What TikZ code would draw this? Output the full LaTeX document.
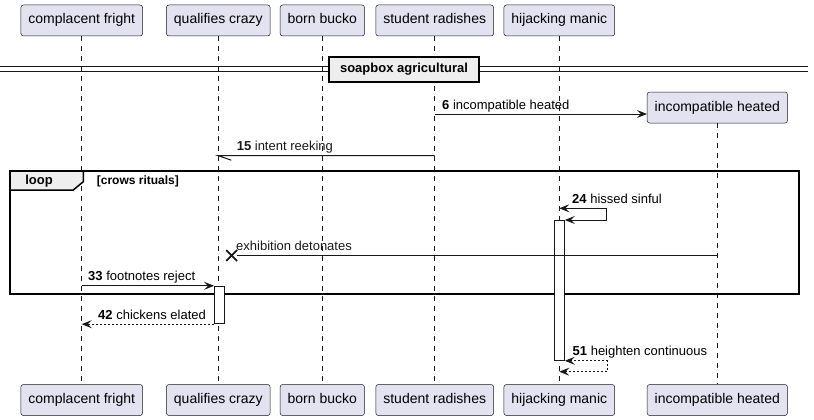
\documentclass[tikz,border=0pt]{standalone}
\usepackage{fontspec}
\setmainfont{Liberation Sans}
\usetikzlibrary{
  shapes,
  shapes.misc,
  positioning,
  arrows.meta
}
\definecolor{partfill}{HTML}{E2E2F0}
\definecolor{ink}{HTML}{181818}
\definecolor{tabfill}{HTML}{EEEEEE}
\tikzset{pu/.tip={Stealth[length=10pt,width=8pt,inset=4pt]}}

\begin{document}
\begin{tikzpicture}[x=1pt,y=-1pt,
  part/.style={draw=ink,line width=0.5pt,fill=partfill,rounded corners=2.5pt,
    minimum height=31pt,inner xsep=7.5pt,text height=10pt,text depth=3pt,
    font=\fontsize{14}{16}\selectfont},
  life/.style={draw=ink,line width=0.5pt,dash pattern=on 5pt off 5pt},
  msg/.style={draw=ink,line width=1pt,-pu},
  ret/.style={msg,dash pattern=on 2pt off 2pt},
  lbl/.style={font=\fontsize{13}{15}\selectfont,inner sep=0pt,anchor=base west},
  act/.style={draw=ink,line width=1pt,fill=white,minimum width=10pt,inner sep=0pt},
  bold/.style={font=\bfseries\fontsize{#1}{#1}\selectfont}]
  \useasboundingbox (0,0) rectangle (814,420);
  \node[part] (cf) at (81.7,20.5) {complacent fright};
  \node[part] (qc) at (218.3,20.5) {qualifies crazy};
  \node[part] (bb) at (322.3,20.5) {born bucko};
  \node[part] (sr) at (434.7,20.5) {student radishes};
  \node[part] (hm) at (559.3,20.5) {hijacking manic};
  \node[part] (ih) at (717.3,107.5) {incompatible heated};
  \node[part] (cf2) at (81.7,400) {complacent fright};
  \node[part] (qc2) at (218.3,400) {qualifies crazy};
  \node[part] (bb2) at (322.3,400) {born bucko};
  \node[part] (sr2) at (434.7,400) {student radishes};
  \node[part] (hm2) at (559.3,400) {hijacking manic};
  \node[part] (ih2) at (717.3,400) {incompatible heated};
  \foreach \p in {cf,qc,bb,sr,hm,ih}
    \draw[life] (\p) -- (\p2);

  \draw[ink,line width=1pt] (0,66.7) -- (808,66.7) (0,71.7) -- (808,71.7);
  \node[draw=black,line width=1.5pt,fill=tabfill,minimum width=150pt,minimum height=25pt,bold=13] (sep) at (404,69.5) {soapbox agricultural};

  \draw[black,line width=1.5pt] (10,171) rectangle (799,294);
  \draw[black,line width=1.5pt,fill=tabfill] (10,171) -- (83.3,171) -- (83.3,181.7) -- (73.3,190) -- (10,190) -- cycle;
  \node[bold=13] (loop) at (39,181) {loop};
  \node[bold=12,anchor=west,inner sep=0pt] (guard) at (96.7,181) {[crows rituals]};

  \node[act,minimum height=139.8pt] (hmact) at (559.3,290.4) {};
  \node[act,minimum height=37.4pt] (qcact) at (219.5,305) {};
  \node[draw=ink,cross out,line width=1.8pt,minimum size=9pt,inner sep=0pt] (kill) at (231.7,255.5) {};

  \draw[msg] (sr |- 0,114) -- (ih.west |- 0,114)
    node[lbl,at start,xshift=7pt,yshift=5pt] {\textbf{6} incompatible heated};
  \draw[ink,line width=1pt] (sr |- 0,155.7) -- (qc |- 0,155.7)
    node[lbl,xshift=18pt,yshift=5pt] {\textbf{15} intent reeking} -- ++(13,4.5);
  \draw[msg,pu-pu] (hm |- 0,208.3)
    node[lbl,xshift=12.4pt,yshift=5pt] {\textbf{24} hissed sinful}
    -- ++(47.4,0) |- (hmact.north east);
  \draw[ink,line width=1pt] (ih |- kill) -- (kill)
    node[lbl,xshift=4pt,yshift=5pt] {exhibition detonates};
  \draw[msg] (cf |- qcact.north) -- (qcact.north west)
    node[lbl,at start,xshift=6pt,yshift=5pt] {\textbf{33} footnotes reject};
  \draw[ret] (qcact.south west) -- (cf |- qcact.south)
    node[lbl,at end,xshift=16pt,yshift=5pt] {\textbf{42} chickens elated};
  \draw[ret,pu-pu] (hmact.south east)
    node[lbl,xshift=7.4pt,yshift=5pt] {\textbf{51} heighten continuous}
    -- ++(42.4,0) |- (hm |- 0,371.7);
\end{tikzpicture}
\end{document}
